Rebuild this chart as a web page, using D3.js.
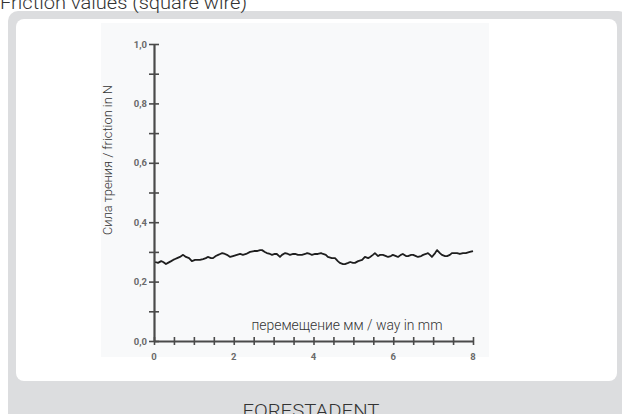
<!DOCTYPE html>
<html><head><meta charset="utf-8">
<script src="https://cdn.jsdelivr.net/npm/d3@7"></script>
<style>
html,body{margin:0;padding:0;background:#fff;overflow:hidden}
</style></head>
<body>
<svg id="c" width="622" height="414"></svg>
<script>
const title = "Friction values (square wire)";
const yLabel = "Сила трения / friction in N";
const xLabel = "перемещение мм / way in mm";
const footer = "FORESTADENT";
const xTickLabels = ["0","2","4","6","8"];
const yTickLabels = ["0,0","0,2","0,4","0,6","0,8","1,0"];
const wayMm = [0.03,0.10,0.18,0.23,0.30,0.35,0.43,0.48,0.53,0.58,0.65,0.73,0.80,0.88,0.95,1.03,1.08,1.15,1.23,1.30,1.35,1.43,1.48,1.55,1.61,1.66,1.71,1.78,1.83,1.91,1.98,2.08,2.16,2.23,2.31,2.41,2.51,2.58,2.66,2.71,2.78,2.83,2.91,2.96,3.03,3.08,3.16,3.21,3.29,3.36,3.41,3.49,3.54,3.61,3.71,3.79,3.84,3.91,3.96,4.04,4.11,4.19,4.24,4.31,4.36,4.46,4.54,4.61,4.66,4.74,4.79,4.87,4.92,4.99,5.04,5.12,5.22,5.29,5.37,5.42,5.49,5.54,5.62,5.67,5.74,5.82,5.87,5.94,5.99,6.07,6.12,6.19,6.24,6.32,6.37,6.45,6.50,6.57,6.62,6.70,6.75,6.82,6.87,6.92,6.97,7.05,7.10,7.17,7.22,7.30,7.35,7.42,7.47,7.55,7.60,7.67,7.75,7.82,7.92,8.00];
const friction = [0.266,0.263,0.269,0.266,0.259,0.263,0.269,0.273,0.276,0.279,0.283,0.290,0.283,0.279,0.269,0.273,0.273,0.273,0.276,0.279,0.283,0.279,0.279,0.286,0.290,0.293,0.296,0.293,0.290,0.283,0.286,0.290,0.293,0.290,0.293,0.300,0.303,0.303,0.306,0.306,0.300,0.296,0.293,0.290,0.293,0.293,0.283,0.290,0.296,0.293,0.290,0.293,0.293,0.290,0.290,0.293,0.296,0.293,0.290,0.293,0.293,0.296,0.293,0.290,0.283,0.279,0.279,0.269,0.263,0.259,0.259,0.263,0.266,0.263,0.263,0.269,0.273,0.283,0.279,0.283,0.290,0.296,0.286,0.290,0.290,0.286,0.283,0.286,0.290,0.286,0.283,0.290,0.293,0.286,0.286,0.290,0.290,0.286,0.283,0.286,0.290,0.293,0.296,0.290,0.283,0.296,0.306,0.296,0.290,0.286,0.286,0.290,0.296,0.296,0.296,0.293,0.296,0.296,0.300,0.303];

const svg = d3.select("#c");
// frame
svg.append("rect").attr("x",8).attr("y",11).attr("width",620).attr("height",420).attr("rx",10).attr("fill","#dcdddf");
svg.append("rect").attr("x",16).attr("y",19).attr("width",601).attr("height",362).attr("rx",8).attr("fill","#ffffff");
// title
svg.append("text").attr("x",0).attr("y",9).attr("font-family","Roboto").attr("font-weight",300)
  .attr("font-size",19).attr("fill","#333").attr("textLength",247).attr("lengthAdjust","spacingAndGlyphs").text(title);
// footer
svg.append("text").attr("x",311).attr("y",417).attr("text-anchor","middle").attr("font-family","Roboto").attr("font-weight",300)
  .attr("font-size",19).attr("fill","#333").attr("textLength",137).attr("lengthAdjust","spacingAndGlyphs").text(footer);
// plot background
svg.append("rect").attr("x",101).attr("y",23).attr("width",388).attr("height",334).attr("fill","#f8f9fa");

const x = d3.scaleLinear().domain([0,8]).range([154,473]);
const y = d3.scaleLinear().domain([0,1]).range([341,44]);
const axisColor = "#4a4a4a";

// y axis
const yAx = svg.append("g").attr("transform","translate(154,0)")
  .call(d3.axisLeft(y).tickValues(d3.range(0,1.01,0.1)).tickSizeInner(5).tickSizeOuter(0).tickFormat(""));
yAx.select(".domain").attr("stroke",axisColor).attr("stroke-width",2.2);
yAx.selectAll(".tick line").attr("stroke",axisColor).attr("stroke-width",1.6).attr("x2",-5).attr("x1",5);
const yMajor = [0,0.2,0.4,0.6,0.8,1.0];
svg.append("g").selectAll("text").data(yMajor).join("text")
  .attr("x",147).attr("y",d=>y(d)+3.5).attr("text-anchor","end").attr("font-family","Roboto").attr("font-weight",700)
  .attr("font-size",9.5).attr("fill","#6a6a6a").text((d,i)=>yTickLabels[i]);

// x axis
const xAx = svg.append("g").attr("transform","translate(0,341)")
  .call(d3.axisBottom(x).tickValues(d3.range(0,8.01,0.5)).tickSizeInner(4).tickSizeOuter(0).tickFormat(""));
xAx.select(".domain").attr("stroke",axisColor).attr("stroke-width",2.2);
xAx.selectAll(".tick line").attr("stroke",axisColor).attr("stroke-width",1.6).attr("y1",-4).attr("y2",4);
const xMajor = [0,2,4,6,8];
svg.append("g").selectAll("text").data(xMajor).join("text")
  .attr("x",d=>x(d)).attr("y",360).attr("text-anchor","middle").attr("font-family","Roboto").attr("font-weight",700)
  .attr("font-size",9.5).attr("fill","#6a6a6a").text((d,i)=>xTickLabels[i]);

// labels
svg.append("text").attr("transform","translate(112,160) rotate(-90)").attr("text-anchor","middle")
  .attr("font-family","Roboto").attr("font-weight",300).attr("font-size",13).attr("fill","#333")
  .attr("textLength",150).attr("lengthAdjust","spacingAndGlyphs").text(yLabel);
svg.append("text").attr("x",347).attr("y",330).attr("text-anchor","middle")
  .attr("font-family","Roboto").attr("font-weight",300).attr("font-size",14).attr("fill","#333")
  .attr("textLength",191).attr("lengthAdjust","spacingAndGlyphs").text(xLabel);

// data line
const pts = wayMm.map((d,i)=>[d,friction[i]]);
svg.append("path").datum(pts).attr("fill","none").attr("stroke","#1e1e1e").attr("stroke-width",1.8)
  .attr("stroke-linejoin","round")
  .attr("d",d3.line().x(d=>x(d[0])).y(d=>y(d[1])));
</script>
</body></html>
